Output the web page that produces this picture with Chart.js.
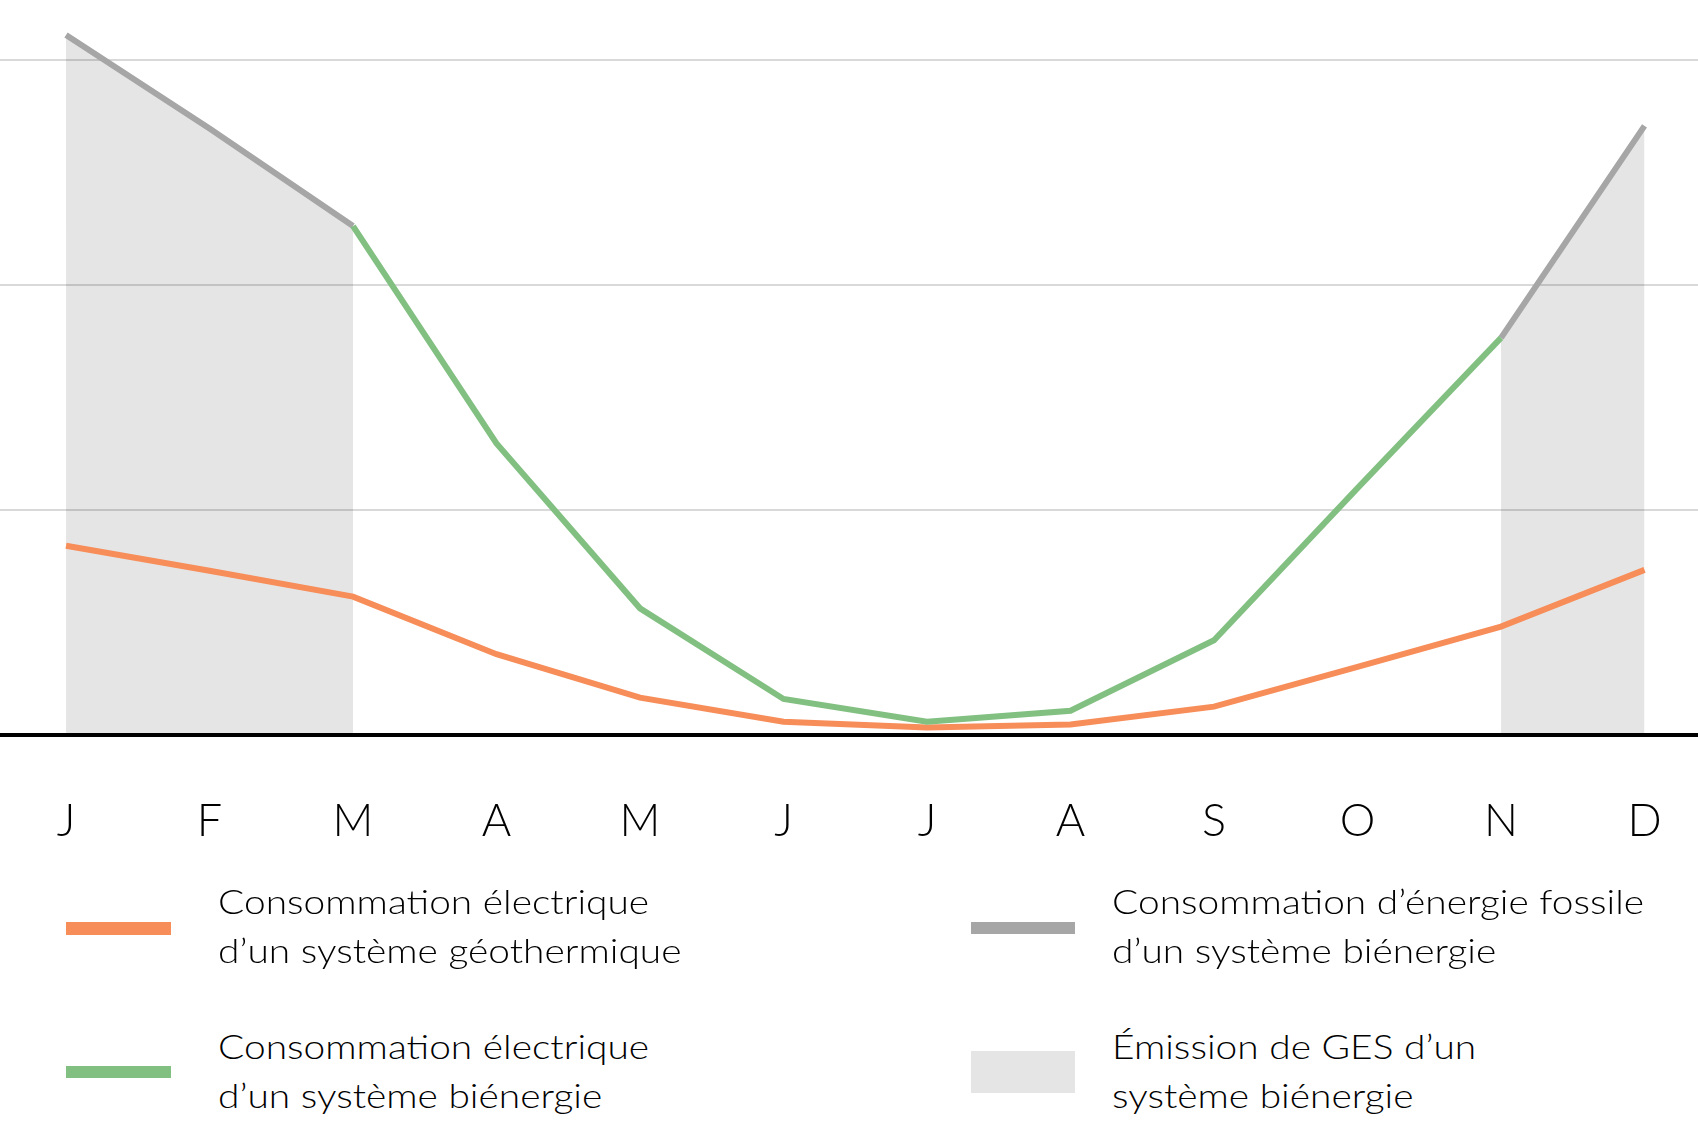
<!DOCTYPE html>
<html>
<head>
<meta charset="utf-8">
<script src="https://cdn.jsdelivr.net/npm/chart.js@4.4.1/dist/chart.umd.min.js"></script>
<style>
    html, body { margin: 0; background: #fff; overflow: hidden; }
    #page { position: relative; width: 1698px; height: 1139px; font-family: Lato, 'Open Sans', sans-serif; font-weight: 300; color: #000; }
    #chartBox { position: absolute; left: 0; top: 0; width: 1698px; height: 880px; }
    .swatch { position: absolute; }
    .label { position: absolute; font-size: 34px; line-height: 49px; white-space: nowrap; transform: scaleX(1.144); transform-origin: 0 0; }
</style>
</head>
<body>
<div id="page">
    <div id="chartBox"><canvas id="energyChart" width="1698" height="880"></canvas></div>
    <div id="legend"></div>
</div>
<script>
// month initials on the x axis
const months = ['J', 'F', 'M', 'A', 'M', 'J', 'J', 'A', 'S', 'O', 'N', 'D'];

// values (one gridline step = 1)
const geoElec = [0.841, 0.730, 0.615, 0.359, 0.166, 0.059, 0.033, 0.047, 0.126, 0.303, 0.482, 0.734];
const biElec = [null, null, 2.262, 1.296, 0.563, 0.160, 0.059, 0.108, 0.421, 1.097, 1.765, null];
const biFossil = [3.111, 2.696, 2.262, null, null, null, null, null, null, null, 1.765, 2.707];
const yTicks = [0, 1, 2, 3];

const legendLabels = [
    'Consommation électrique\nd’un système géothermique',
    'Consommation électrique\nd’un système biénergie',
    'Consommation d’énergie fossile\nd’un système biénergie',
    'Émission de GES d’un\nsystème biénergie'
];

const ORANGE = '#f78d59';
const GREEN = '#82c082';
const GREY = '#a6a6a6';
const SHADE = 'rgba(0, 0, 0, 0.102)';

const toPoints = arr => arr.map((v, i) => ({ x: i, y: v }));

const ctx = document.getElementById('energyChart').getContext('2d');
new Chart(ctx, {
    type: 'line',
    data: {
        datasets: [
            {
                label: legendLabels[1],
                data: toPoints(biElec),
                borderColor: GREEN,
                fill: false
            },
            {
                label: legendLabels[0],
                data: toPoints(geoElec),
                borderColor: ORANGE,
                fill: false
            },
            {
                label: legendLabels[2],
                data: toPoints(biFossil),
                borderColor: GREY,
                backgroundColor: SHADE,
                fill: 'origin'
            }
        ]
    },
    options: {
        responsive: false,
        animation: false,
        layout: { padding: 0 },
        elements: {
            point: { radius: 0, hoverRadius: 0 },
            line: { borderWidth: 6, tension: 0 }
        },
        plugins: {
            legend: { display: false },
            tooltip: { enabled: false }
        },
        scales: {
            x: {
                type: 'linear',
                min: -0.46,
                max: 11.3728,
                afterBuildTicks: scale => { scale.ticks = months.map((m, i) => ({ value: i })); },
                afterFit: scale => {
                    scale.height = 145;
                    scale.paddingLeft = 0;
                    scale.paddingRight = 0;
                },
                grid: { display: false },
                border: { display: false },
                ticks: {
                    autoSkip: false,
                    maxRotation: 0,
                    padding: 51,
                    color: '#000',
                    font: { family: 'Lato', size: 45, weight: 300 },
                    callback: value => months[value]
                }
            },
            y: {
                min: 0,
                max: 735 / 225,
                afterBuildTicks: scale => { scale.ticks = yTicks.map(v => ({ value: v })); },
                afterFit: scale => { scale.width = 0; },
                ticks: { display: false },
                border: { display: false },
                grid: {
                    drawTicks: false,
                    color: c => c.tick.value === 0 ? '#000' : '#d9d9d9',
                    lineWidth: c => c.tick.value === 0 ? 4 : 2
                }
            }
        }
    }
});

// legend below the chart, 2 x 2
const legendItems = [
    { text: legendLabels[0], color: ORANGE, box: [66, 922, 105, 13], textPos: [218, 876] },
    { text: legendLabels[1], color: GREEN, box: [66, 1066, 105, 12], textPos: [218, 1021] },
    { text: legendLabels[2], color: GREY, box: [971, 922, 104, 12], textPos: [1112, 876] },
    { text: legendLabels[3], color: '#e5e5e5', box: [971, 1051, 104, 42], textPos: [1112, 1021] }
];
const legend = document.getElementById('legend');
legendItems.forEach(item => {
    const sw = document.createElement('div');
    sw.className = 'swatch';
    sw.style.left = item.box[0] + 'px';
    sw.style.top = item.box[1] + 'px';
    sw.style.width = item.box[2] + 'px';
    sw.style.height = item.box[3] + 'px';
    sw.style.background = item.color;
    legend.appendChild(sw);

    const lbl = document.createElement('div');
    lbl.className = 'label';
    lbl.style.left = item.textPos[0] + 'px';
    lbl.style.top = item.textPos[1] + 'px';
    lbl.innerHTML = item.text.split('\n').join('<br>');
    legend.appendChild(lbl);
});
</script>
</body>
</html>
